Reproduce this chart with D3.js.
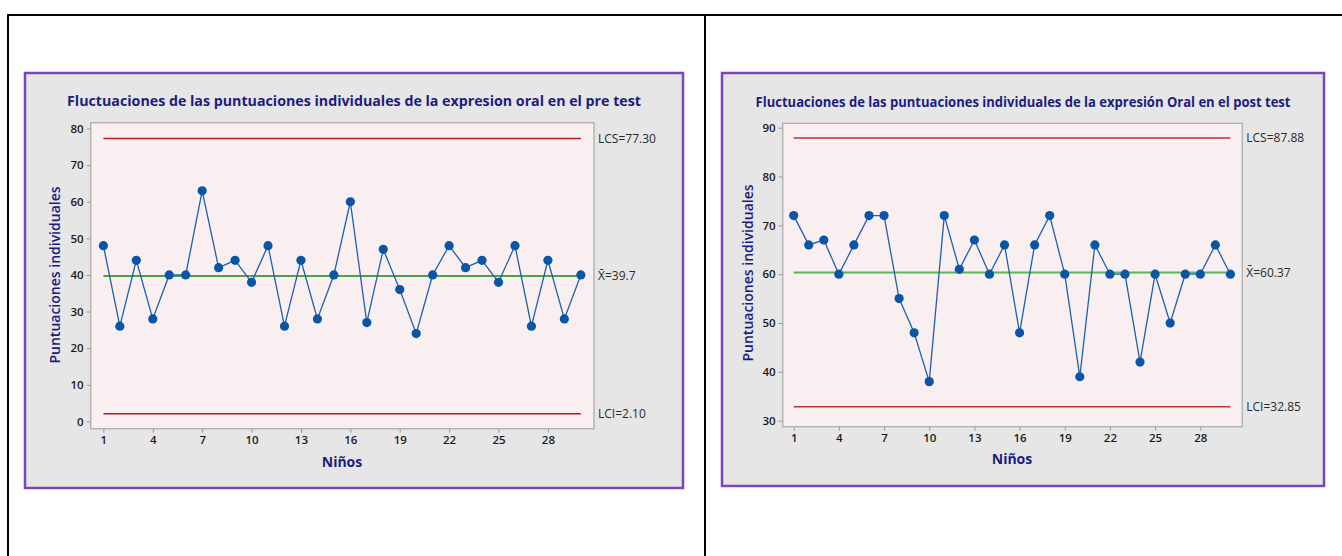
<!DOCTYPE html>
<html>
<head>
<meta charset="utf-8">
<script src="https://cdn.jsdelivr.net/npm/d3@7"></script>
<style>
  body { margin: 0; background: #fff; }
  svg { display: block; }
  text { font-family: "Open Sans", "Noto Sans", sans-serif; }
</style>
</head>
<body>
<svg id="page" width="1342" height="556"></svg>
<script>
'use strict';

// Data
const ninos = [1,2,3,4,5,6,7,8,9,10,11,12,13,14,15,16,17,18,19,20,21,22,23,24,25,26,27,28,29,30]
const preScores = [48,26,44,28,40,40,63,42,44,38,48,26,44,28,40,60,27,47,36,24,40,48,42,44,38,48,26,44,28,40]
const postScores = [72,66,67,60,66,72,72,55,48,38,72,61,67,60,66,48,66,72,60,39,66,60,60,42,60,50,60,60,66,60]

// control limits: LCS, mean, LCI
const limitNames = ['LCS', 'X\u0304', 'LCI']
const preLimits = [77.30, 39.7, 2.10]
const preLimitLabels = ['77.30', '39.7', '2.10']
const postLimits = [87.88, 60.37, 32.85]
const postLimitLabels = ['87.88', '60.37', '32.85']

const xTicks = [1,4,7,10,13,16,19,22,25,28]
const preYTicks = [0,10,20,30,40,50,60,70,80]
const postYTicks = [30,40,50,60,70,80,90]

const preTitle = 'Fluctuaciones de las puntuaciones individuales de la expresion oral en el pre test'
const postTitle = 'Fluctuaciones de las puntuaciones individuales de la expresión Oral en el post test'
const yLabel = 'Puntuaciones individuales'
const xLabel = 'Niños'

const svg = d3.select('#page')

// word-style table lines round the two charts
svg.append('line').attr('x1', 7).attr('x2', 1342).attr('y1', 15).attr('y2', 15)
    .attr('stroke', '#000').attr('stroke-width', 2)
svg.append('line').attr('x1', 8).attr('x2', 8).attr('y1', 14).attr('y2', 556)
    .attr('stroke', '#000').attr('stroke-width', 2)
svg.append('line').attr('x1', 705).attr('x2', 705).attr('y1', 14).attr('y2', 556)
    .attr('stroke', '#000').attr('stroke-width', 2)

const navy = '#1c1c80'

function drawChart(cfg) {
    const g = svg.append('g')

    // outer frame
    g.append('rect')
        .attr('x', cfg.frame[0]).attr('y', cfg.frame[1])
        .attr('width', cfg.frame[2]).attr('height', cfg.frame[3])
        .attr('fill', '#e6e6e6')
        .attr('stroke', '#7d45bb').attr('stroke-width', 2.5)

    const [px0, py0, px1, py1] = cfg.plot
    const x = d3.scaleLinear().domain(cfg.xDomain).range([px0, px1])
    const y = d3.scaleLinear().domain(cfg.yDomain).range([py1, py0])

    g.append('rect')
        .attr('x', px0).attr('y', py0)
        .attr('width', px1 - px0).attr('height', py1 - py0)
        .attr('fill', '#f9eff1')
        .attr('stroke', '#b4b4b4').attr('stroke-width', 1.5)

    // title
    g.append('text')
        .attr('x', cfg.titleX).attr('y', cfg.titleY)
        .attr('text-anchor', 'middle')
        .attr('font-size', 13.5).attr('font-weight', 700)
        .attr('fill', navy)
        .attr('textLength', cfg.titleLen).attr('lengthAdjust', 'spacingAndGlyphs')
        .text(cfg.title)

    // axes
    const yAxis = g.append('g')
        .attr('transform', `translate(${px0},0)`)
        .call(d3.axisLeft(y).tickValues(cfg.yTicks).tickSize(4).tickSizeOuter(0).tickPadding(3))
    const xAxis = g.append('g')
        .attr('transform', `translate(0,${py1})`)
        .call(d3.axisBottom(x).tickValues(xTicks).tickSize(4).tickSizeOuter(0).tickPadding(3))
    for (const a of [xAxis, yAxis]) {
        a.select('.domain').remove()
        a.selectAll('.tick line').attr('stroke', '#9a9a9a')
        a.selectAll('.tick text')
            .attr('font-size', 11.5).attr('font-weight', 600)
            .attr('fill', '#1a1a1a')
            .style('font-family', '"Open Sans", sans-serif')
    }

    // axis titles
    g.append('text')
        .attr('transform', `translate(${cfg.yLabelPos[0]},${cfg.yLabelPos[1]}) rotate(-90)`)
        .attr('text-anchor', 'middle').attr('dy', '0.35em')
        .attr('font-size', 14).attr('font-weight', 600).attr('fill', navy)
        .text(yLabel)
    g.append('text')
        .attr('x', cfg.xLabelPos[0]).attr('y', cfg.xLabelPos[1])
        .attr('text-anchor', 'middle').attr('dy', '0.35em')
        .attr('font-size', 14).attr('font-weight', 700).attr('fill', navy)
        .text(xLabel)

    // control lines
    const first = ninos[0], last = ninos[ninos.length - 1]
    cfg.limits.forEach((v, i) => {
        g.append('line')
            .attr('x1', x(first)).attr('x2', x(last))
            .attr('y1', y(v)).attr('y2', y(v))
            .attr('stroke', i === 1 ? cfg.meanColor : cfg.limitColor)
            .attr('stroke-width', i === 1 ? cfg.meanWidth : 1.4)
        g.append('text')
            .attr('x', px1 + 4).attr('y', y(v))
            .attr('dy', '0.35em')
            .attr('font-size', 12).attr('fill', '#2a2a2a')
            .text(limitNames[i] + '=' + cfg.limitLabels[i])
    })

    // individual values
    const line = d3.line()
        .x((d, i) => x(ninos[i]))
        .y(d => y(d))
    g.append('path')
        .datum(cfg.values)
        .attr('d', line)
        .attr('fill', 'none')
        .attr('stroke', '#1e60ad')
        .attr('stroke-width', 1.3)
    g.selectAll('circle.pt')
        .data(cfg.values)
        .join('circle')
        .attr('class', 'pt')
        .attr('cx', (d, i) => x(ninos[i]))
        .attr('cy', d => y(d))
        .attr('r', 4.6)
        .attr('fill', '#0a55a6')
}

drawChart({
    frame: [25, 73, 658, 415],
    plot: [90.7, 122.7, 594, 428.7],
    xDomain: [0.23, 30.8],
    yDomain: [-2.0, 81.6],
    yTicks: preYTicks,
    values: preScores,
    limits: preLimits,
    limitLabels: preLimitLabels,
    title: preTitle, titleX: 354, titleY: 106, titleLen: 574,
    yLabelPos: [55, 275],
    xLabelPos: [342, 462],
    limitColor: '#b01e1e',
    meanColor: '#108a10',
    meanWidth: 1.5
})

drawChart({
    frame: [722, 73, 602, 413],
    plot: [782.7, 123.3, 1242.3, 426.7],
    xDomain: [0.27, 30.79],
    yDomain: [28.77, 90.9],
    yTicks: postYTicks,
    values: postScores,
    limits: postLimits,
    limitLabels: postLimitLabels,
    title: postTitle, titleX: 1023, titleY: 107, titleLen: 535,
    yLabelPos: [748, 273],
    xLabelPos: [1012, 459],
    limitColor: '#b83232',
    meanColor: '#5cb45c',
    meanWidth: 2
})
</script>
</body>
</html>
